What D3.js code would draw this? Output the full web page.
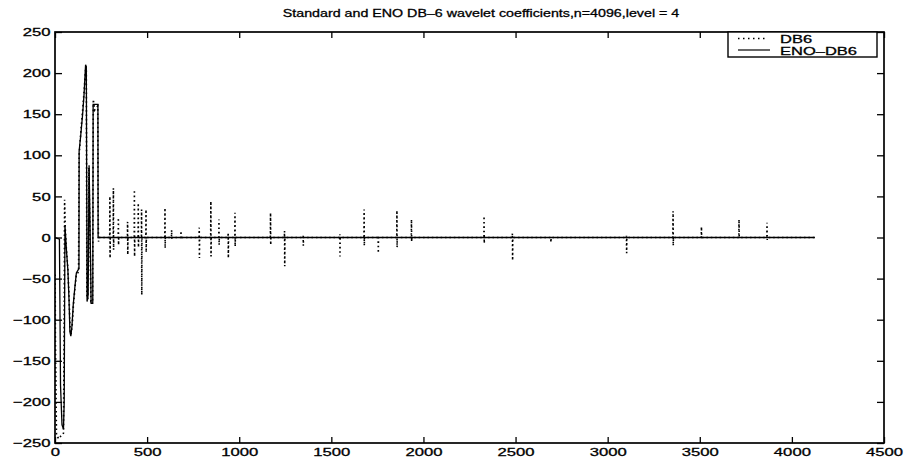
<!DOCTYPE html>
<html>
<head>
<meta charset="utf-8">
<script src="https://cdn.jsdelivr.net/npm/d3@7"></script>
<style>
  body { margin: 0; background: #fff; }
  svg { display: block; }
  text { font-family: "Liberation Sans", Helvetica, Arial, sans-serif; fill: #000; stroke: #000; stroke-width: 0.3px; }
</style>
</head>
<body>
<svg id="chart" width="905" height="462"></svg>
<script>
const titleText = "Standard and ENO DB\u20136 wavelet coefficients,n=4096,level = 4";
const seriesNames = ["DB6", "ENO\u2013DB6"];

const xTicks = [0, 500, 1000, 1500, 2000, 2500, 3000, 3500, 4000, 4500];
const yTicks = [-250, -200, -150, -100, -50, 0, 50, 100, 150, 200, 250];

// ENO-DB6 coefficients (solid line)
const enoIndex = [1, 24, 30, 38, 46, 50, 54, 62, 70, 76, 81, 86, 92, 99, 108, 116, 124, 130,
  131, 140, 150, 158, 166, 170, 174, 180, 185, 190, 196, 205, 207, 233, 234, 4125];
const enoValue = [0, -2, -180, -228, -233, -200, 15, -15, -40, -75, -115, -120, -108, -82, -60, -43, -40, -38,
  105, 125, 150, 175, 210, 208, -78, -70, 88, 20, -80, -80, 162, 162, 0, 0];

// DB6 coarse part (dotted line)
const db6Index = [1, 2, 8, 20, 30, 40, 46, 50, 52, 56, 62, 70, 76, 82, 87, 94, 100, 108, 115, 122, 128,
  131, 140, 150, 158, 167, 170, 173, 178, 184, 189, 195, 204, 208, 215, 225, 232, 234, 236, 240];
const db6Value = [-45, -120, -240, -245, -242, -240, -238, -100, 46, 10, -15, -38, -70, -112, -118, -105, -82, -62, -47, -45, -40,
  100, 128, 155, 178, 208, 205, -70, -75, 85, 15, -78, -78, 168, 155, 158, 160, 40, -5, 0];

// DB6 detail spikes: position, highest and lowest value
const spikeIndex = [298, 317, 344, 394, 431, 452, 470, 494, 597, 633, 684, 783, 846, 890, 940, 977,
  1170, 1246, 1347, 1546, 1678, 1754, 1856, 1935, 2329, 2483, 2691, 3102, 3355, 3509, 3713, 3865];
const spikeHigh = [50, 60, 24, 19, 58, 42, 34, 34, 36, 9, 8, 12, 44, 22, 6, 30,
  30, 8, 2, 4, 34, 2, 33, 22, 26, 5, 0, 2, 32, 13, 22, 18];
const spikeLow = [-25, -15, -9, -21, -23, -12, -70, -18, -13, -3, -2, -25, -23, -9, -25, -11,
  -9, -35, -10, -23, -10, -19, -12, -5, -7, -28, -6, -19, -10, 3, 1, -3];
const db6End = 4125;

const plotLeft = 55, plotRight = 884, plotTop = 32, plotBottom = 443;
const stretch = 1.45;

const svg = d3.select("#chart");
svg.append("rect").attr("width", 905).attr("height", 462).attr("fill", "#fff");

const x = d3.scaleLinear().domain([0, 4500]).range([plotLeft, plotRight]);
const y = d3.scaleLinear().domain([-250, 250]).range([plotBottom, plotTop]);

svg.append("clipPath").attr("id", "plot")
  .append("rect").attr("x", plotLeft).attr("y", plotTop)
  .attr("width", plotRight - plotLeft).attr("height", plotBottom - plotTop);

const line = d3.line().x(d => x(d[0])).y(d => y(d[1]));

// build DB6 path: coarse part then spikes on the zero line
let db6 = d3.zip(db6Index, db6Value);
spikeIndex.forEach((at, i) => {
  db6.push([at - 1, 0], [at, spikeHigh[i]], [at + 1, spikeLow[i]], [at + 2, 0]);
});
db6.push([db6End, 0]);
const eno = d3.zip(enoIndex, enoValue);

const g = svg.append("g").attr("clip-path", "url(#plot)");
g.append("path").datum(db6)
  .attr("d", line)
  .attr("fill", "none")
  .attr("stroke", "#000")
  .attr("stroke-width", 1.6)
  .attr("stroke-dasharray", "1.6,2.8");
g.append("path").datum(eno)
  .attr("d", line)
  .attr("fill", "none")
  .attr("stroke", "#000")
  .attr("stroke-width", 1.3);

// axes
const xAxis = svg.append("g").attr("transform", `translate(0,${plotBottom})`)
  .call(d3.axisBottom(x).tickValues(xTicks).tickFormat(d3.format("d"))
    .tickSizeInner(-6).tickSizeOuter(0).tickPadding(5));
xAxis.selectAll("text").attr("font-size", 11.5).attr("transform", `scale(${stretch},1)`);

const yAxis = svg.append("g").attr("transform", `translate(${plotLeft},0)`)
  .call(d3.axisLeft(y).tickValues(yTicks).tickSizeInner(-7).tickSizeOuter(0).tickPadding(3));
yAxis.selectAll("text").attr("font-size", 11.5).attr("transform", `scale(${stretch},1)`);

svg.append("g").attr("transform", `translate(0,${plotTop})`)
  .call(d3.axisTop(x).tickValues(xTicks).tickSizeInner(-6).tickSizeOuter(0).tickFormat(""));
svg.append("g").attr("transform", `translate(${plotRight},0)`)
  .call(d3.axisRight(y).tickValues(yTicks).tickSizeInner(-7).tickSizeOuter(0).tickFormat(""));

svg.selectAll(".domain").remove();
svg.selectAll(".tick line").attr("stroke", "#000").attr("stroke-width", 1.3);

svg.append("rect")
  .attr("x", plotLeft).attr("y", plotTop)
  .attr("width", plotRight - plotLeft).attr("height", plotBottom - plotTop)
  .attr("fill", "none").attr("stroke", "#000").attr("stroke-width", 1.7);

// title
svg.append("text")
  .attr("transform", `translate(481,17) scale(1.24,1)`)
  .attr("text-anchor", "middle")
  .attr("font-size", 11.5)
  .text(titleText);

// legend
const lg = svg.append("g");
lg.append("rect")
  .attr("x", 728).attr("y", plotTop).attr("width", 149).attr("height", 25)
  .attr("fill", "#fff").attr("stroke", "#000").attr("stroke-width", 1.4);
lg.append("line").attr("x1", 738).attr("x2", 766).attr("y1", 38.5).attr("y2", 38.5)
  .attr("stroke", "#000").attr("stroke-width", 1.5).attr("stroke-dasharray", "1.5,3.5");
lg.append("line").attr("x1", 738).attr("x2", 770).attr("y1", 50).attr("y2", 50)
  .attr("stroke", "#000").attr("stroke-width", 1.2);
seriesNames.forEach((name, i) => {
  lg.append("text")
    .attr("transform", `translate(780,${42.5 + i * 12}) scale(1.5,1)`)
    .attr("font-size", 11)
    .text(name);
});
</script>
</body>
</html>
